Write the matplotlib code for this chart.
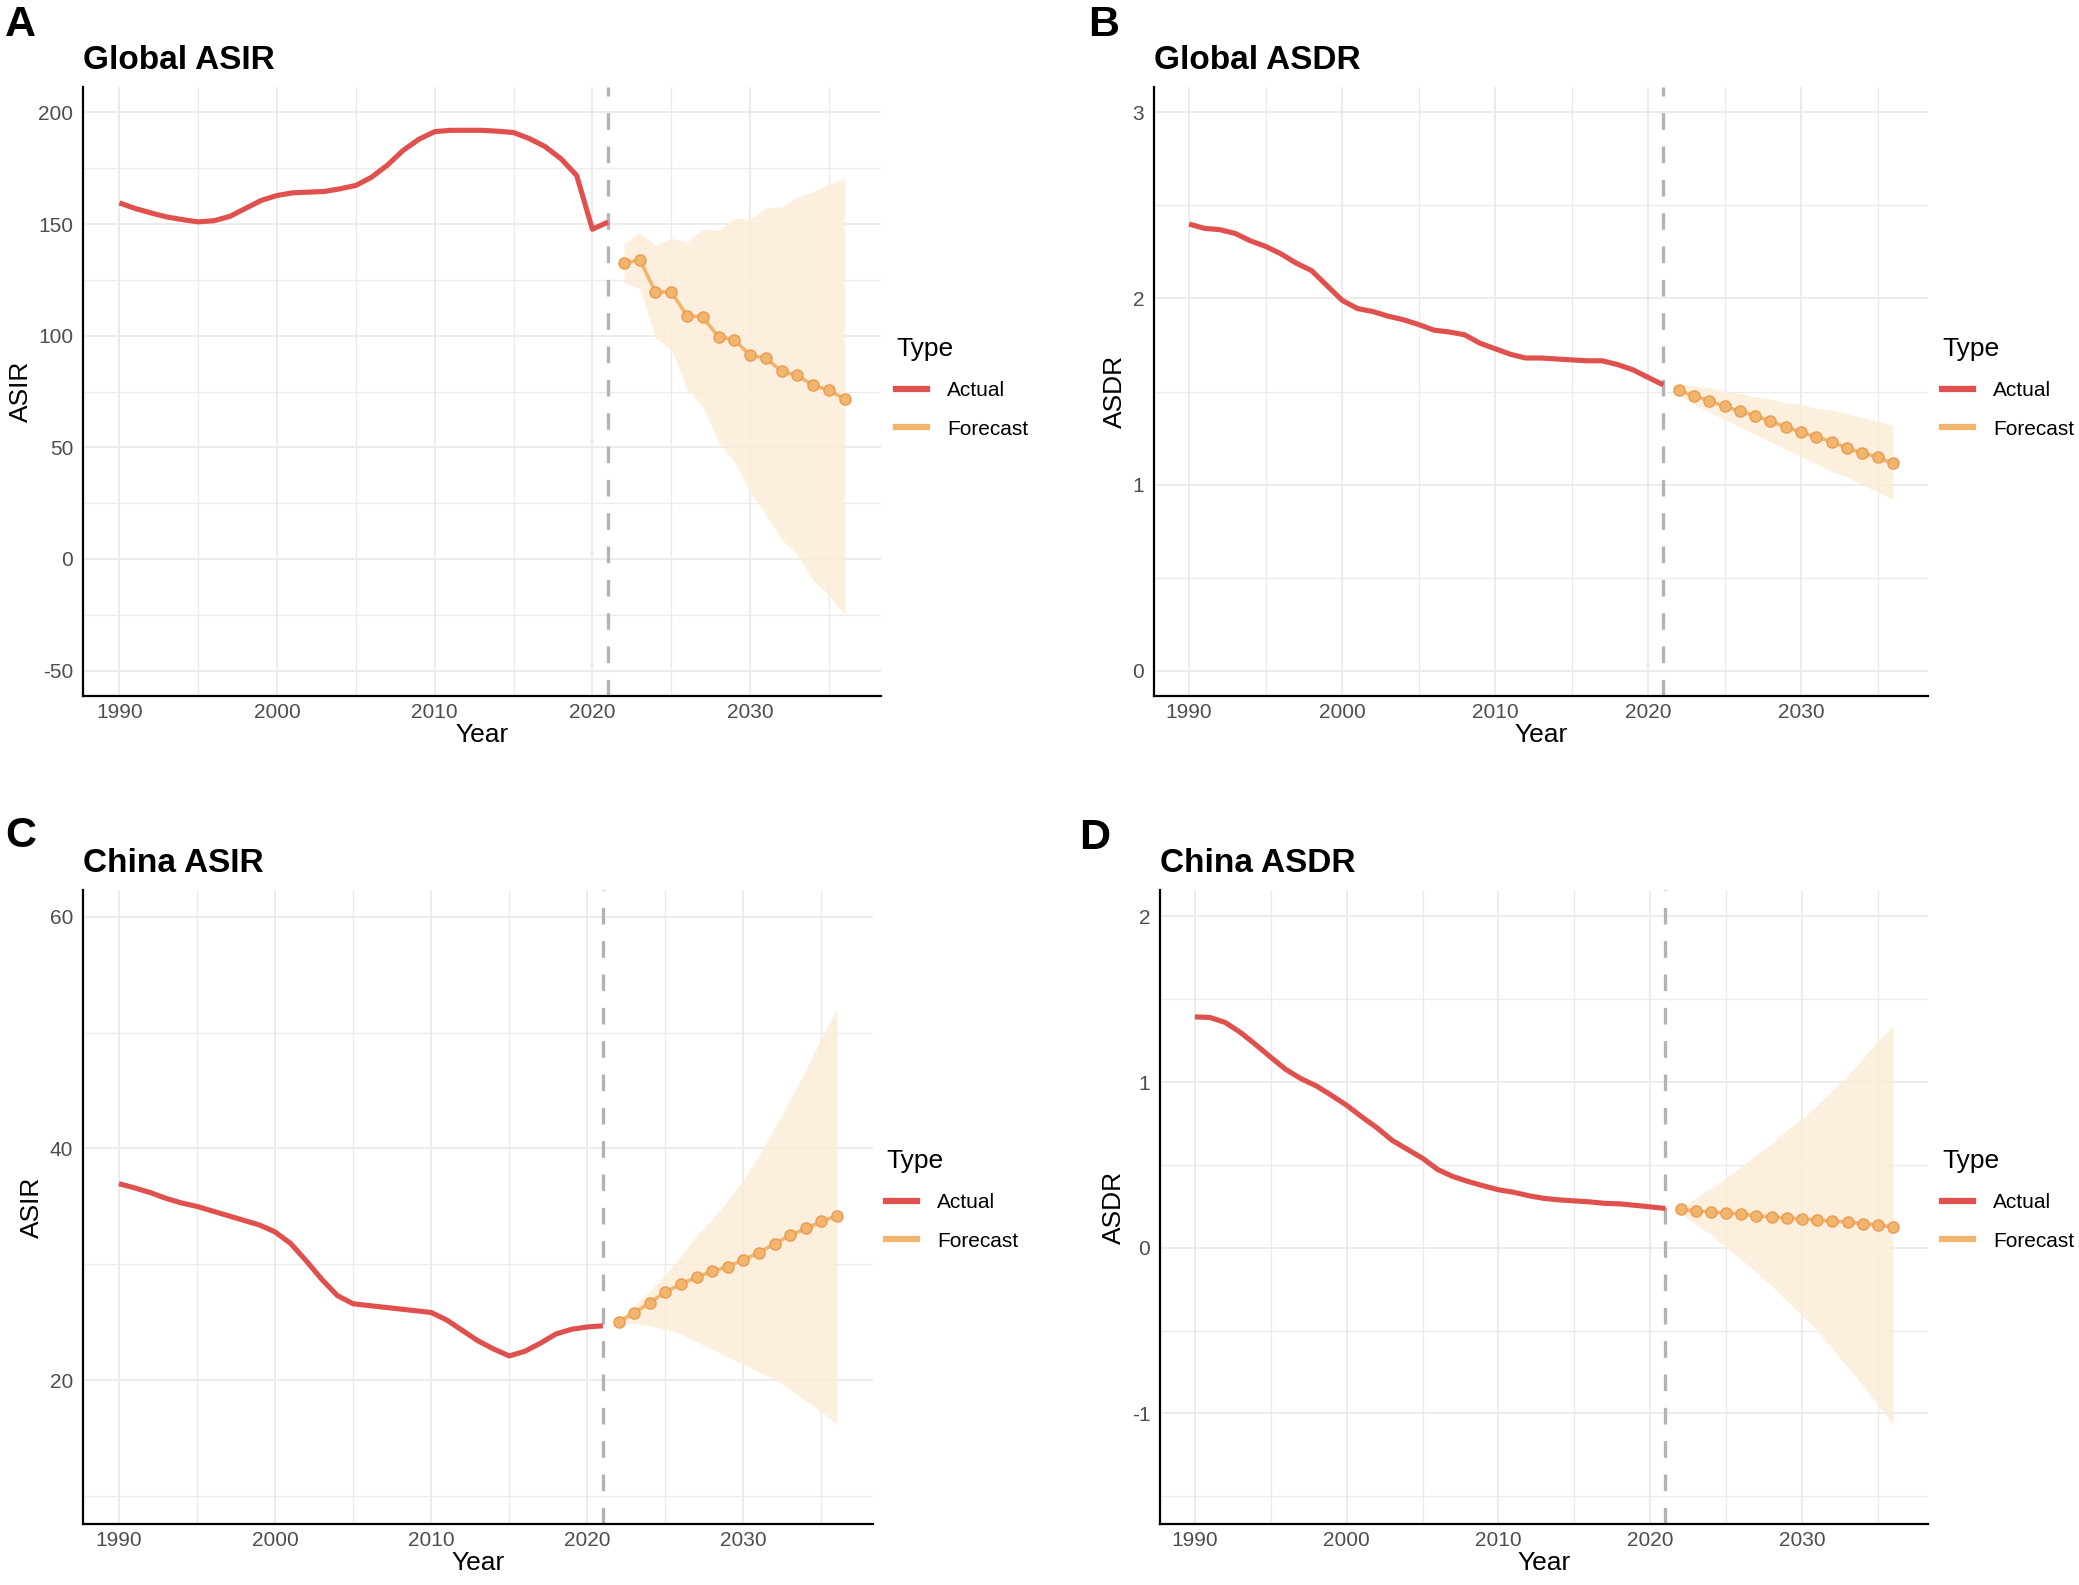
## Forecast of ASIR / ASDR, global and China
import matplotlib
matplotlib.use("Agg")
import matplotlib.pyplot as plt
from matplotlib.lines import Line2D
from matplotlib.ticker import MultipleLocator

plt.rcParams['font.family'] = ['Liberation Sans', 'DejaVu Sans']
plt.rcParams['axes.unicode_minus'] = False

years_actual = list(range(1990, 2022))
years_fc = list(range(2022, 2037))

# Global ASIR
g_asir = [159.5, 157.0, 155.0, 153.2, 152.0, 151.0, 151.5, 153.4, 157.0, 160.6,
          162.8, 164.0, 164.3, 164.6, 165.8, 167.3, 171.0, 176.4, 183.0, 188.0,
          191.4, 192.0, 192.0, 192.0, 191.6, 191.0, 188.3, 184.7, 179.3, 171.8,
          147.7, 150.9]
g_asir_fc = [132.4, 134.0, 119.6, 119.6, 109.0, 108.3, 99.5, 98.2, 91.2, 90.0,
             84.0, 82.2, 77.7, 75.7, 71.6]
g_asir_hi = [141.4, 146.0, 140.5, 143.7, 141.9, 147.7, 147.0, 152.7, 152.0, 157.2,
             157.7, 162.2, 164.4, 168.0, 170.3]
g_asir_lo = [123.4, 121.2, 99.0, 94.0, 76.0, 68.2, 52.5, 43.5, 30.0, 20.0,
             8.6, 2.0, -9.5, -16.2, -25.0]

# Global ASDR
g_asdr = [2.40, 2.377, 2.37, 2.35, 2.31, 2.28, 2.24, 2.19, 2.15, 2.07,
          1.99, 1.946, 1.93, 1.905, 1.886, 1.86, 1.83, 1.82, 1.805, 1.76,
          1.73, 1.70, 1.68, 1.68, 1.675, 1.67, 1.665, 1.665, 1.645, 1.617,
          1.576, 1.535]
g_asdr_fc = [1.506, 1.476, 1.45, 1.42, 1.395, 1.37, 1.34, 1.31, 1.28, 1.256,
             1.23, 1.196, 1.17, 1.147, 1.113]
g_asdr_hi = [1.54, 1.53, 1.52, 1.50, 1.49, 1.47, 1.46, 1.44, 1.43, 1.41,
             1.40, 1.38, 1.36, 1.34, 1.32]
g_asdr_lo = [1.48, 1.43, 1.39, 1.35, 1.31, 1.27, 1.23, 1.19, 1.15, 1.11,
             1.07, 1.04, 1.00, 0.96, 0.92]

# China ASIR
c_asir = [36.96, 36.6, 36.2, 35.7, 35.3, 35.0, 34.6, 34.2, 33.8, 33.4,
          32.8, 31.8, 30.3, 28.7, 27.3, 26.6, 26.45, 26.3, 26.15, 26.0,
          25.85, 25.2, 24.3, 23.4, 22.7, 22.1, 22.5, 23.2, 24.0, 24.4,
          24.6, 24.7]
c_asir_fc = [25.05, 25.8, 26.7, 27.6, 28.3, 28.9, 29.4, 29.8, 30.4, 31.0,
             31.8, 32.5, 33.1, 33.7, 34.2]
c_asir_hi = [25.3, 26.4, 27.7, 29.1, 30.7, 32.5, 33.9, 35.5, 37.3, 39.4,
             41.8, 44.2, 46.8, 49.6, 52.1]
c_asir_lo = [24.9, 24.9, 24.7, 24.4, 24.0, 23.3, 22.7, 22.0, 21.4, 20.7,
             20.1, 19.2, 18.2, 17.3, 16.2]

# China ASDR
c_asdr = [1.394, 1.39, 1.36, 1.30, 1.227, 1.15, 1.076, 1.02, 0.977, 0.92,
          0.86, 0.79, 0.724, 0.648, 0.594, 0.54, 0.472, 0.43, 0.40, 0.374,
          0.35, 0.335, 0.314, 0.298, 0.289, 0.283, 0.277, 0.268, 0.265, 0.256,
          0.247, 0.237]
c_asdr_fc = [0.231, 0.222, 0.216, 0.21, 0.204, 0.192, 0.186, 0.18, 0.174, 0.168,
             0.161, 0.155, 0.146, 0.137, 0.125]
c_asdr_hi = [0.25, 0.30, 0.36, 0.42, 0.49, 0.56, 0.63, 0.71, 0.78, 0.86,
             0.95, 1.04, 1.14, 1.25, 1.34]
c_asdr_lo = [0.21, 0.14, 0.08, 0.00, -0.07, -0.15, -0.23, -0.32, -0.41, -0.50,
             -0.61, -0.72, -0.83, -0.95, -1.07]

RED = '#E0504C'
ORANGE = '#F2B56E'
ORANGE_EDGE = '#E99A4F'
FILL = '#FDEBD6'
GRID = '#EBEBEB'

W, H = 2079, 1585
fig = plt.figure(figsize=(W / 100, H / 100), dpi=100)


def box(l, r, t, b):
    return [l / W, 1 - b / H, (r - l) / W, (b - t) / H]


def panel(pos, letter, letter_xy, title, ylab, act, fc, hi, lo,
          ylim, major, minor, leg_xy):
    ax = fig.add_axes(box(*pos))
    ax.fill_between(years_fc, lo, hi, color=FILL, alpha=0.8, lw=0, zorder=1)
    ax.plot(years_actual, act, color=RED, lw=3.7, solid_capstyle='butt', zorder=3)
    ax.plot(years_fc, fc, color=ORANGE, lw=2.6, marker='o', ms=8,
            mfc=ORANGE, mec=ORANGE_EDGE, mew=1.0, zorder=3)
    ax.axvline(2021, color='#B3B3B3', lw=2.4, ls=(0, (5, 5)), zorder=2)

    ax.set_xlim(1987.7, 2038.3)
    ax.set_ylim(*ylim)
    ax.xaxis.set_major_locator(MultipleLocator(10))
    ax.xaxis.set_minor_locator(MultipleLocator(5))
    ax.yaxis.set_major_locator(MultipleLocator(major))
    ax.yaxis.set_minor_locator(MultipleLocator(minor))
    ax.grid(which='major', color=GRID, lw=1.3)
    ax.grid(which='minor', color=GRID, lw=1.0)
    ax.set_axisbelow(True)
    ax.tick_params(which='both', length=0, labelsize=15, colors='#4D4D4D')
    ax.tick_params(axis='x', pad=5)
    ax.tick_params(axis='y', pad=7)
    for s in ['top', 'right']:
        ax.spines[s].set_visible(False)
    for s in ['left', 'bottom']:
        ax.spines[s].set_color('black')
        ax.spines[s].set_linewidth(1.6)

    ax.set_xlabel('Year', fontsize=19, labelpad=1)
    ax.set_ylabel(ylab, fontsize=19, labelpad=4)

    ax.text(0, 1.018, title, transform=ax.transAxes, fontsize=24,
            fontweight='bold', ha='left', va='bottom')
    fig.text(letter_xy[0] / W, 1 - letter_xy[1] / H, letter, fontsize=31,
             fontweight='bold', ha='left', va='center')

    handles = [Line2D([], [], color=RED, lw=4.5),
               Line2D([], [], color=ORANGE, lw=4.5)]
    leg = ax.legend(handles, ['Actual', 'Forecast'], title='Type',
                    loc='upper left', bbox_to_anchor=(leg_xy[0] / W, 1 - leg_xy[1] / H),
                    bbox_transform=fig.transFigure, frameon=False,
                    fontsize=15, title_fontsize=19, handlelength=1.5,
                    handletextpad=0.95, labelspacing=0.95, borderpad=0,
                    borderaxespad=0, alignment='left')
    return ax


panel((83, 881, 87, 696), 'A', (5, 25), 'Global ASIR', 'ASIR',
      g_asir, g_asir_fc, g_asir_hi, g_asir_lo,
      (-61.4, 211.4), 50, 25, (896, 337))
panel((1154, 1928, 87, 696), 'B', (1088, 25), 'Global ASDR', 'ASDR',
      g_asdr, g_asdr_fc, g_asdr_hi, g_asdr_lo,
      (-0.137, 3.137), 1, 0.5, (1942, 337))
panel((83, 873, 890, 1524), 'C', (5, 836), 'China ASIR', 'ASIR',
      c_asir, c_asir_fc, c_asir_hi, c_asir_lo,
      (7.6, 62.3), 20, 10, (886, 1149))
panel((1160, 1928, 890, 1524), 'D', (1079, 838), 'China ASDR', 'ASDR',
      c_asdr, c_asdr_fc, c_asdr_hi, c_asdr_lo,
      (-1.668, 2.16), 1, 0.5, (1942, 1149))

fig.savefig('out.png', dpi=100, facecolor='white')
